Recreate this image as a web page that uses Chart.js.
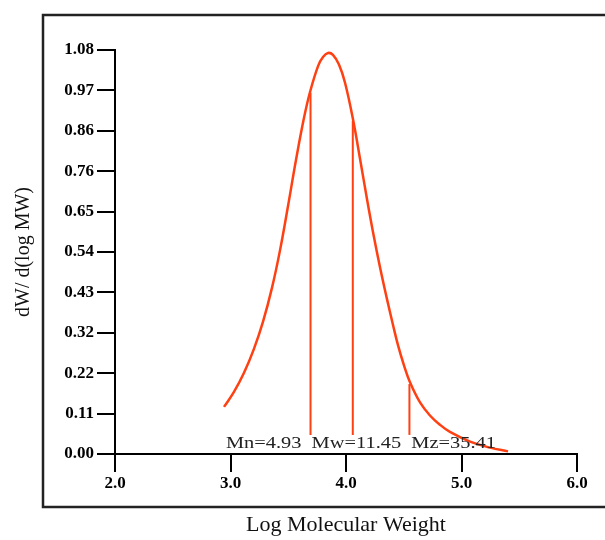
<!DOCTYPE html>
<html>
<head>
<meta charset="utf-8">
<script src="https://cdn.jsdelivr.net/npm/chart.js@4/dist/chart.umd.min.js"></script>
<style>
  html, body { margin: 0; padding: 0; background: #fff; }
  #gpcChart { display: block; }
</style>
</head>
<body>
<canvas id="gpcChart" width="605" height="540"></canvas>
<script>
// Distribution curve
const logMW = [2.944, 3.030, 3.117, 3.203, 3.281, 3.359, 3.429, 3.498, 3.567, 3.636,
  3.688, 3.758, 3.801, 3.844, 3.887, 3.939, 3.991, 4.061, 4.121, 4.182,
  4.234, 4.294, 4.355, 4.407, 4.450, 4.502, 4.554, 4.641, 4.727, 4.814,
  4.900, 5.074, 5.247, 5.403];
const dwdlogM = [0.126, 0.166, 0.217, 0.281, 0.353, 0.444, 0.545, 0.663, 0.786, 0.898,
  0.967, 1.037, 1.061, 1.072, 1.067, 1.041, 0.993, 0.894, 0.790, 0.681,
  0.593, 0.500, 0.414, 0.345, 0.291, 0.237, 0.192, 0.138, 0.103, 0.078,
  0.059, 0.033, 0.017, 0.007];

// Molecular weight averages (x1000)
const momentNames = ['Mn', 'Mw', 'Mz'];
const momentValues = [4.93, 11.45, 35.41];
const momentTops = [0.966, 0.89, 0.187];
const momentBase = 0.051;

// Axis ticks
const xTickValues = [2, 3, 4, 5, 6];
const xTickLabels = ['2.0', '3.0', '4.0', '5.0', '6.0'];
const yTickValues = [0, 0.108, 0.216, 0.324, 0.432, 0.54, 0.648, 0.756, 0.864, 0.972, 1.08];
const yTickLabels = ['0.00', '0.11', '0.22', '0.32', '0.43', '0.54', '0.65', '0.76', '0.86', '0.97', '1.08'];

const curveColor = '#ff4013';
const tickFont = { family: '"Liberation Serif", serif', size: 17, weight: 'bold' };

const datasets = [{
  data: logMW.map((x, i) => ({ x: x, y: dwdlogM[i] })),
  borderColor: curveColor,
  borderWidth: 2.5,
  pointRadius: 0,
  tension: 0.4
}];

momentValues.forEach((v, i) => {
  const lx = Math.log10(v * 1000);
  datasets.push({
    label: momentNames[i],
    data: [{ x: lx, y: momentBase }, { x: lx, y: momentTops[i] }],
    borderColor: curveColor,
    borderWidth: 2,
    pointRadius: 0
  });
});

// outer frame + Mn/Mw/Mz text
const framePlugin = {
  id: 'frame',
  beforeDraw(chart) {
    const ctx = chart.ctx;
    ctx.save();
    ctx.fillStyle = '#fff';
    ctx.fillRect(0, 0, chart.width, chart.height);
    ctx.strokeStyle = '#222';
    ctx.lineWidth = 2.5;
    ctx.strokeRect(43, 15, 620, 492);
    ctx.restore();
  },
  afterDatasetsDraw(chart) {
    const ctx = chart.ctx;
    const xs = chart.scales.x, ys = chart.scales.y;
    const text = momentNames.map((n, i) => n + '=' + momentValues[i].toFixed(2)).join('  ');
    ctx.save();
    ctx.translate(xs.getPixelForValue(2.96), ys.getPixelForValue(0.016));
    ctx.scale(1.2, 1);
    ctx.font = '17px "Liberation Serif", serif';
    ctx.fillStyle = '#222';
    ctx.textBaseline = 'alphabetic';
    ctx.fillText(text, 0, 0);
    ctx.restore();
  }
};

new Chart(document.getElementById('gpcChart').getContext('2d'), {
  type: 'line',
  data: { datasets: datasets },
  plugins: [framePlugin],
  options: {
    responsive: false,
    animation: false,
    layout: { padding: { top: 50, right: 28, left: 0, bottom: 0 } },
    plugins: { legend: { display: false }, tooltip: { enabled: false } },
    scales: {
      x: {
        type: 'linear',
        min: 2,
        max: 6,
        afterFit: s => { s.height = 86; },
        afterBuildTicks: s => { s.ticks = xTickValues.map(v => ({ value: v })); },
        ticks: {
          color: '#000',
          font: tickFont,
          padding: 1,
          maxRotation: 0,
          callback: (v) => xTickLabels[xTickValues.indexOf(v)]
        },
        grid: { drawOnChartArea: false, tickLength: 18, color: '#000', lineWidth: 2 },
        border: { color: '#000', width: 2 },
        title: {
          display: true,
          text: 'Log Molecular Weight',
          color: '#111',
          font: { family: '"Liberation Serif", serif', size: 22 },
          padding: { top: 0, bottom: 2 }
        }
      },
      y: {
        min: 0,
        max: 1.08,
        afterFit: s => { s.width = 115; },
        afterBuildTicks: s => { s.ticks = yTickValues.map(v => ({ value: v })); },
        ticks: {
          color: '#000',
          font: tickFont,
          padding: 3,
          callback: (v) => yTickLabels[yTickValues.indexOf(v)]
        },
        grid: { drawOnChartArea: false, tickLength: 18, color: '#000', lineWidth: 2 },
        border: { color: '#000', width: 2 },
        title: {
          display: true,
          text: 'dW/ d(log MW)',
          color: '#111',
          font: { family: '"Liberation Serif", serif', size: 20 },
          padding: { top: 12, bottom: 0 }
        }
      }
    }
  }
});
</script>
</body>
</html>
